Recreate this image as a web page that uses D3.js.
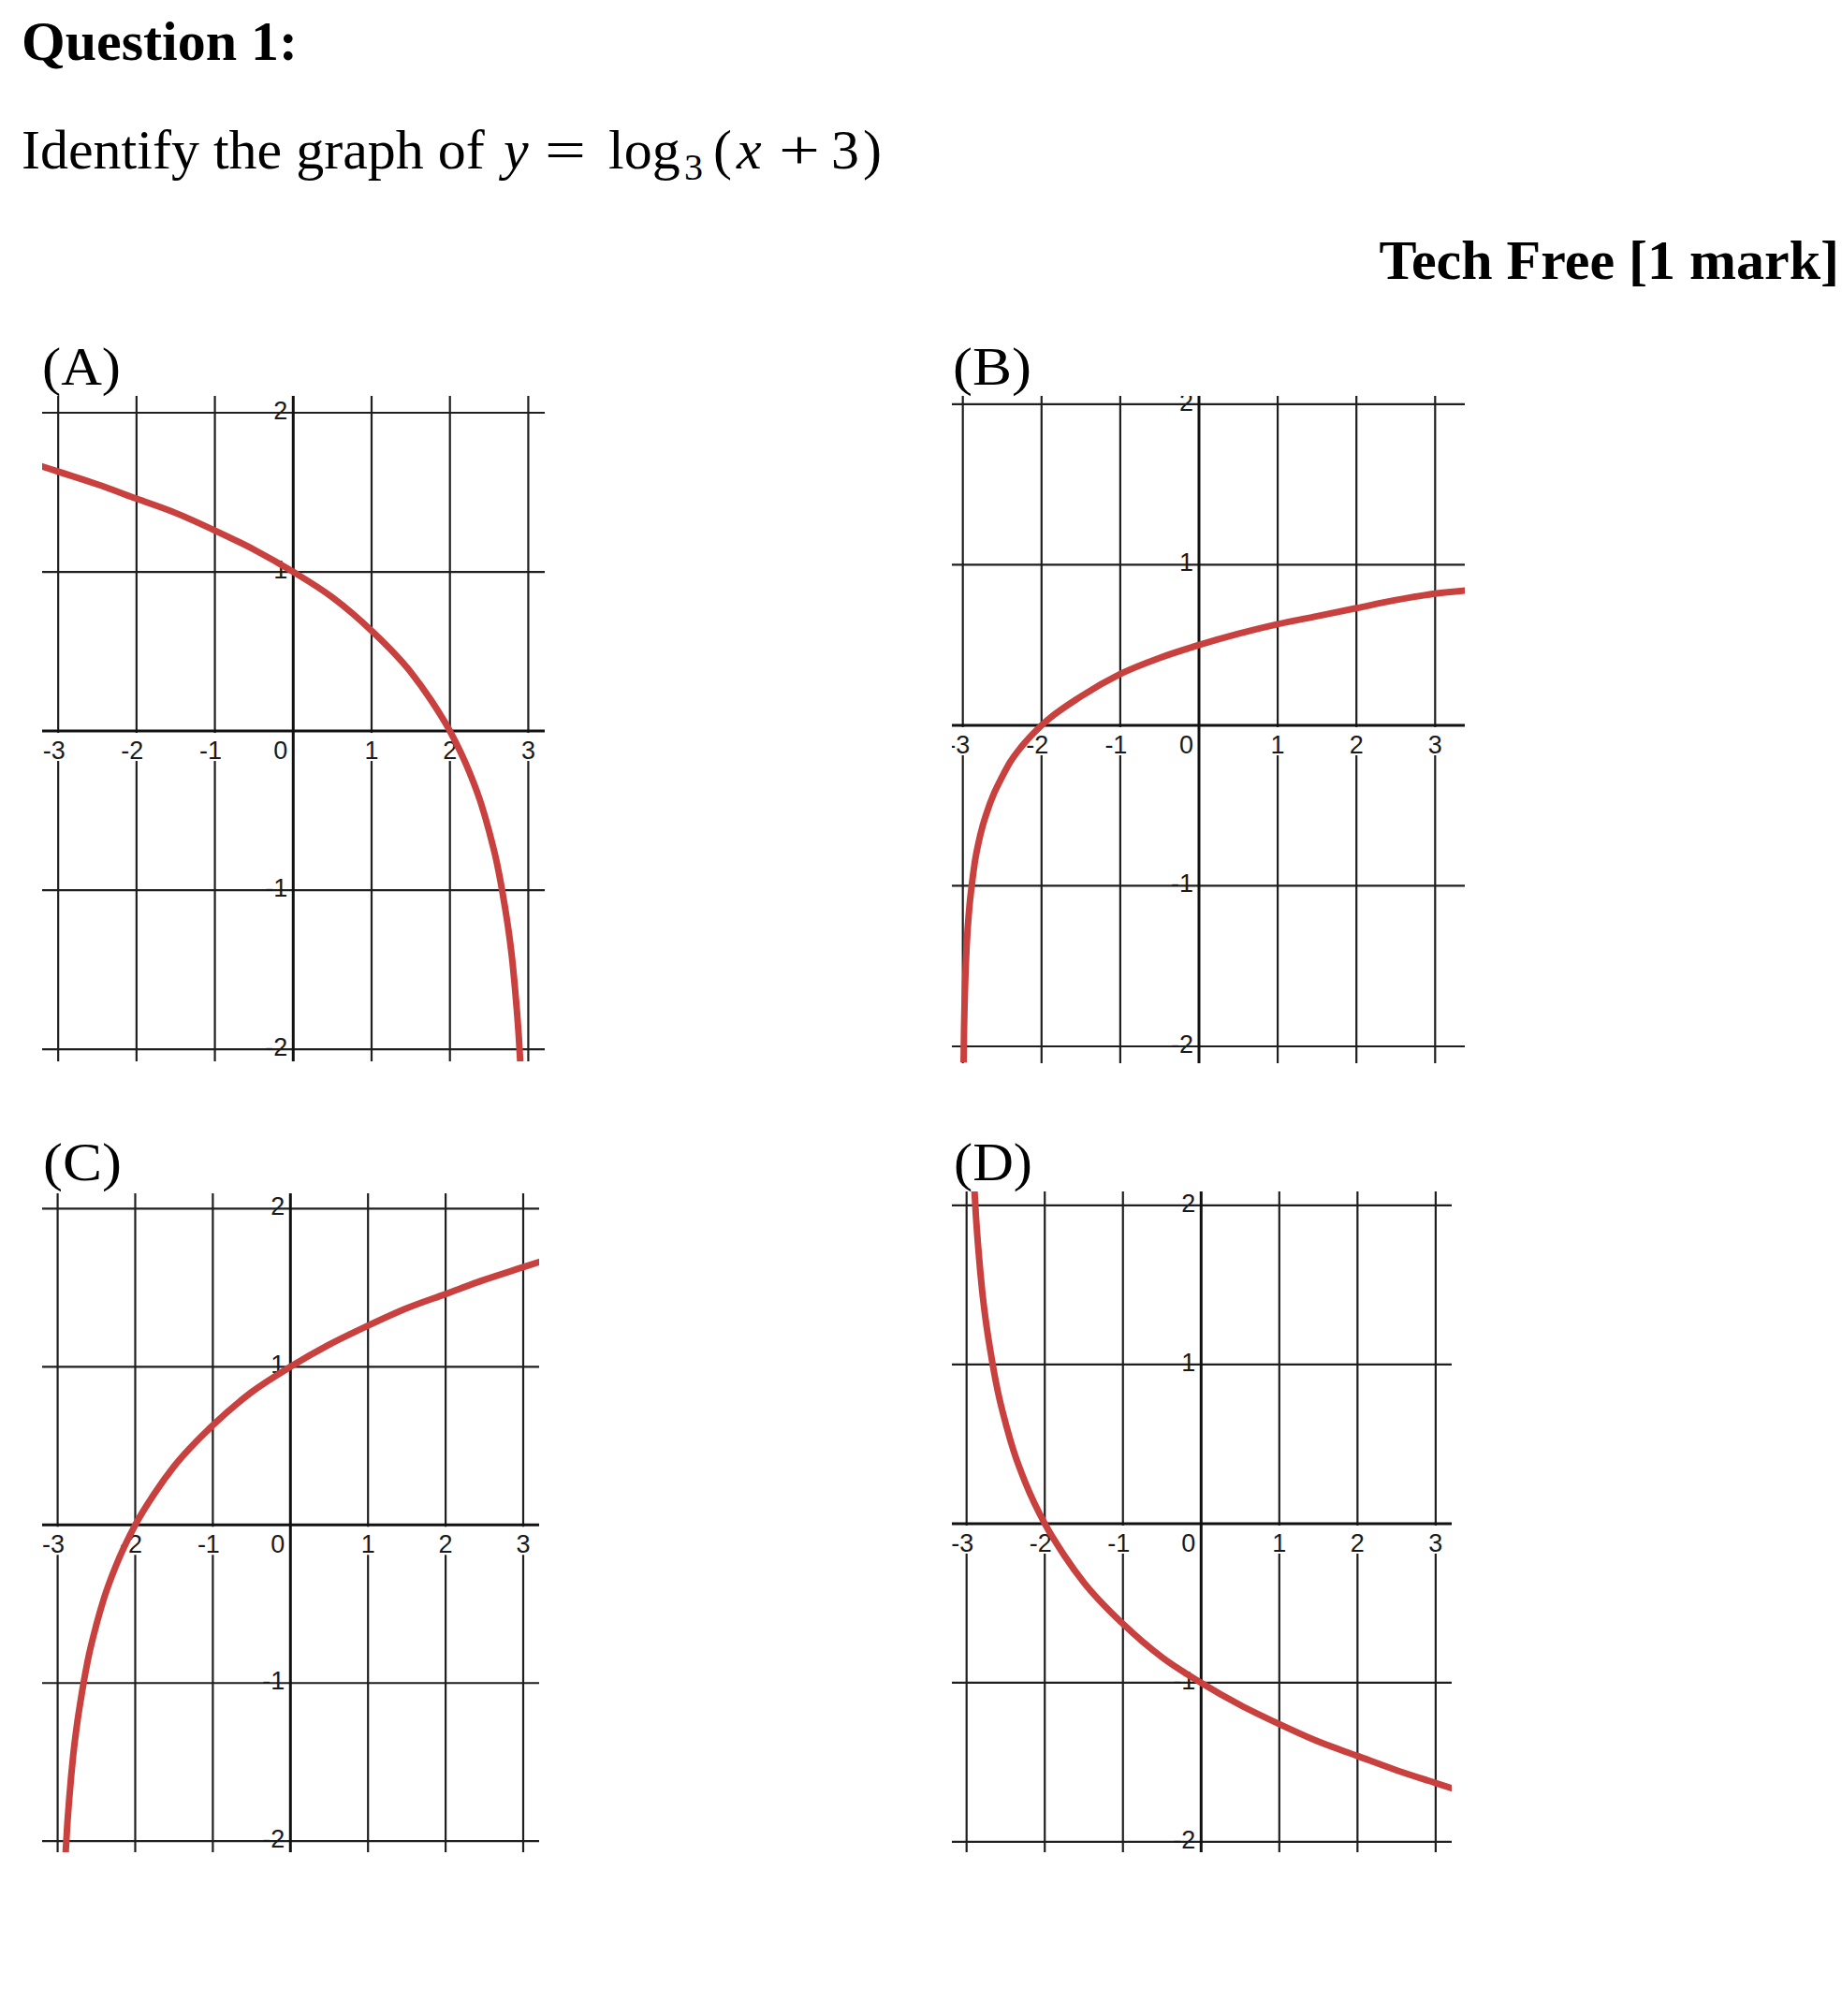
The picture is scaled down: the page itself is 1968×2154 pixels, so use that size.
<!DOCTYPE html>
<html><head><meta charset="utf-8">
<script src="https://cdn.jsdelivr.net/npm/d3@7"></script>
<style>html,body{margin:0;padding:0;background:#fff;} svg{display:block;}</style>
</head><body>
<svg id="chart" width="1968" height="2154"></svg>
<script>
// ---------- data ----------
const panelIds = ["A", "B", "C", "D"];
const panelLabels = ["(A)", "(B)", "(C)", "(D)"];
const xTickValues = [-3, -2, -1, 0, 1, 2, 3];
const xTickLabels = ["-3", "-2", "-1", "0", "1", "2", "3"];
const yTickValues = [-2, -1, 1, 2];
const yTickLabels = ["-2", "-1", "1", "2"];

// points [x, y]
const curveA = [[-3.25,1.67],[-3.00,1.63],[-2.50,1.55],[-2.00,1.46],[-1.50,1.37],[-1.00,1.26],[-0.50,1.14],[0.00,1.00],[0.50,0.84],[1.00,0.63],[1.50,0.37],[1.75,0.20],[2.00,0.00],[2.25,-0.26],[2.40,-0.46],[2.50,-0.63],[2.60,-0.83],[2.70,-1.10],[2.75,-1.26],[2.80,-1.46],[2.85,-1.73],[2.88,-1.93],[2.90,-2.10]];
const curveB = [[-2.990,-2.10],[-2.985,-1.91],[-2.980,-1.78],[-2.970,-1.60],[-2.950,-1.36],[-2.920,-1.15],[-2.880,-0.97],[-2.850,-0.86],[-2.800,-0.73],[-2.750,-0.63],[-2.700,-0.55],[-2.600,-0.42],[-2.500,-0.32],[-2.400,-0.23],[-2.250,-0.13],[-2.000,0.00],[-1.500,0.18],[-1.000,0.32],[-0.500,0.42],[0.000,0.50],[0.500,0.57],[1.000,0.63],[1.500,0.68],[2.000,0.73],[2.500,0.78],[3.000,0.82],[3.400,0.84]];
const curveC = [[-2.90,-2.10],[-2.88,-1.93],[-2.85,-1.73],[-2.80,-1.46],[-2.75,-1.26],[-2.70,-1.10],[-2.60,-0.83],[-2.50,-0.63],[-2.40,-0.46],[-2.25,-0.26],[-2.00,0.00],[-1.75,0.20],[-1.50,0.37],[-1.00,0.63],[-0.50,0.84],[0.00,1.00],[0.50,1.14],[1.00,1.26],[1.50,1.37],[2.00,1.46],[2.50,1.55],[3.00,1.63],[3.25,1.67]];
const curveD = [[-2.90,2.10],[-2.88,1.93],[-2.85,1.73],[-2.80,1.46],[-2.75,1.26],[-2.70,1.10],[-2.60,0.83],[-2.50,0.63],[-2.40,0.46],[-2.25,0.26],[-2.00,0.00],[-1.75,-0.20],[-1.50,-0.37],[-1.00,-0.63],[-0.50,-0.84],[0.00,-1.00],[0.50,-1.14],[1.00,-1.26],[1.50,-1.37],[2.00,-1.46],[2.50,-1.55],[3.00,-1.63],[3.25,-1.67]];

// ---------- layout ----------
const layout = {
  A: {left:45,   right:582,  top:423,  bottom:1134, xMin:-3.205, xMax:3.21,  yMin:-2.076, yMax:2.106, lx:45,   ly:411},
  B: {left:1017, right:1565, top:423,  bottom:1136, xMin:-3.139, xMax:3.377, yMin:-2.105, yMax:2.052, lx:1018, ly:411},
  C: {left:45,   right:576,  top:1275, bottom:1979, xMin:-3.20,  xMax:3.205, yMin:-2.07,  yMax:2.097, lx:46,   ly:1261},
  D: {left:1017, right:1551, top:1273, bottom:1979, xMin:-3.188, xMax:3.205, yMin:-2.065, yMax:2.088, lx:1019, ly:1261}
};
const curves = {A: curveA, B: curveB, C: curveC, D: curveD};

const serif = "'Liberation Serif','Times New Roman',Times,serif";
const sans = "'Liberation Sans',Arial,Helvetica,sans-serif";
const RED = "#c9413e";
const TICK_FS = 27;

const svg = d3.select("#chart");

// ---------- header text ----------
svg.append("text").attr("x", 23).attr("y", 64)
  .attr("font-family", serif).attr("font-weight", "bold").attr("font-size", 60)
  .attr("fill", "#000").text("Question 1:");

function piece(x, txt, opts = {}) {
  const t = svg.append("text").attr("x", x).attr("y", opts.y || 180)
    .attr("font-family", serif).attr("font-size", opts.fs || 60).attr("fill", "#000")
    .text(txt);
  if (opts.italic) t.attr("font-style", "italic");
  if (opts.len) t.attr("textLength", opts.len).attr("lengthAdjust", "spacingAndGlyphs");
  return t;
}
piece(23, "Identify the graph of");
piece(538, "y", {italic: true});
piece(582, "=", {len: 44});
piece(650, "log");
piece(731, "3", {fs: 40, y: 192});
piece(762, "(");
piece(787, "x", {italic: true});
piece(832, "+", {len: 44});
piece(888, "3");
piece(922, ")");

svg.append("text").attr("x", 1965).attr("y", 298).attr("text-anchor", "end")
  .attr("font-family", serif).attr("font-weight", "bold").attr("font-size", 60)
  .attr("fill", "#000").text("Tech Free [1 mark]");

// ---------- panels ----------
panelIds.forEach((id, i) => {
  const L = layout[id];
  const x = d3.scaleLinear().domain([L.xMin, L.xMax]).range([L.left, L.right]);
  const y = d3.scaleLinear().domain([L.yMin, L.yMax]).range([L.bottom, L.top]);

  svg.append("text").attr("x", L.lx).attr("y", L.ly)
    .attr("font-family", serif).attr("font-size", 57).attr("fill", "#000")
    .attr("textLength", 84).attr("lengthAdjust", "spacingAndGlyphs")
    .text(panelLabels[i]);

  const clipId = "clip" + id;
  svg.append("clipPath").attr("id", clipId).append("rect")
    .attr("x", L.left).attr("y", L.top)
    .attr("width", L.right - L.left).attr("height", L.bottom - L.top);

  const g = svg.append("g").attr("clip-path", `url(#${clipId})`);

  // grid
  g.selectAll("line.vg").data(xTickValues.filter(v => v !== 0)).join("line")
    .attr("x1", d => x(d)).attr("x2", d => x(d))
    .attr("y1", L.top).attr("y2", L.bottom)
    .attr("stroke", "#1f1f1f").attr("stroke-width", 2.2);
  g.selectAll("line.hg").data(yTickValues).join("line")
    .attr("x1", L.left).attr("x2", L.right)
    .attr("y1", d => y(d)).attr("y2", d => y(d))
    .attr("stroke", "#1f1f1f").attr("stroke-width", 2.2);

  // x tick labels (white box breaks vertical grid lines)
  const x0 = x(0), y0 = y(0);
  xTickValues.forEach((v, k) => {
    const lab = xTickLabels[k];
    if (v === 0) {
      g.append("text").attr("x", x0 - 6).attr("y", y0 + 30)
        .attr("text-anchor", "end").attr("font-family", sans).attr("font-size", TICK_FS)
        .attr("fill", "#1a1a1a").text(lab);
      return;
    }
    const cx = x(v) + (v < 0 ? -4.5 : 0);
    const t = g.append("text").attr("x", cx).attr("y", y0 + 30)
      .attr("text-anchor", "middle").attr("font-family", sans).attr("font-size", TICK_FS)
      .attr("fill", "#1a1a1a").text(lab);
    const bb = t.node().getBBox();
    g.insert("rect", () => t.node())
      .attr("x", bb.x - 1).attr("y", y0 + 2)
      .attr("width", bb.width + 2).attr("height", 30)
      .attr("fill", "#fff");
  });

  // axes
  g.append("line").attr("x1", L.left).attr("x2", L.right).attr("y1", y0).attr("y2", y0)
    .attr("stroke", "#111").attr("stroke-width", 3);
  g.append("line").attr("x1", x0).attr("x2", x0).attr("y1", L.top).attr("y2", L.bottom)
    .attr("stroke", "#111").attr("stroke-width", 3);

  // y tick labels
  g.selectAll("text.yl").data(yTickValues).join("text")
    .attr("x", x0 - 6).attr("y", d => y(d) - 2)
    .attr("dominant-baseline", "central")
    .attr("text-anchor", "end").attr("font-family", sans).attr("font-size", TICK_FS)
    .attr("fill", "#1a1a1a").text((d, k) => yTickLabels[k]);

  // curve
  const line = d3.line().x(d => x(d[0])).y(d => y(d[1])).curve(d3.curveMonotoneX);
  g.append("path").datum(curves[id]).attr("d", line)
    .attr("fill", "none").attr("stroke", RED).attr("stroke-width", 7)
    .attr("stroke-linejoin", "round");
});
</script>
</body></html>
